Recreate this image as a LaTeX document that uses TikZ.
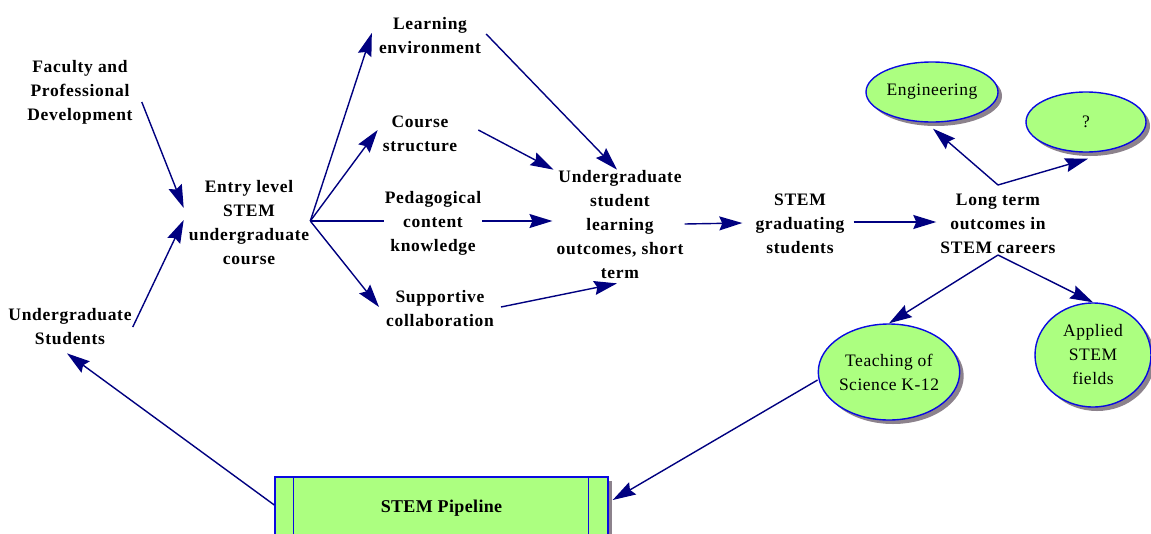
\documentclass[tikz,border=0pt]{standalone}
\usepackage{fontspec}
\setmainfont{Liberation Serif}
\usetikzlibrary{arrows.meta,shadows,calc,shapes.geometric}
\definecolor{navyline}{RGB}{0,0,128}
\definecolor{bblue}{RGB}{10,10,225}
\definecolor{lgreen}{RGB}{172,255,128}
\definecolor{shadowgray}{RGB}{140,130,140}
\begin{document}
\begin{tikzpicture}[x=1pt,y=-1pt,
  lbl/.style={align=center, font=\fontsize{17.5}{24}\selectfont\bfseries\addfontfeature{LetterSpace=4}, inner sep=1pt},
  conn/.style={draw=navyline, line width=1.4pt, -{Stealth[length=23pt,width=14pt,inset=3pt]}},
  plainline/.style={draw=navyline, line width=1.4pt},
  oval/.style={ellipse, draw=bblue, line width=1.4pt, fill=lgreen, align=center, inner sep=0pt,
    font=\fontsize{17.5}{24}\selectfont\addfontfeature{LetterSpace=3},
    drop shadow={shadow xshift=4pt, shadow yshift=-4pt, fill=shadowgray, opacity=1}},
  pipebox/.style={rectangle, draw=bblue, line width=1.4pt, fill=lgreen, inner sep=0pt,
    minimum width=333pt, minimum height=62pt,
    font=\fontsize{18}{24}\selectfont\bfseries\addfontfeature{LetterSpace=2},
    drop shadow={shadow xshift=4pt, shadow yshift=-4pt, fill=shadowgray, opacity=1}}
]
\useasboundingbox (0,0) rectangle (1151,533);
\clip (0,0) rectangle (1151,533);
\fill[white] (0,0) rectangle (1151,533);

% text nodes
\node[lbl] (fac)   at (80,92)   {Faculty and\\Professional\\Development};
\node[lbl] (stud)  at (70,327)  {Undergraduate\\Students};
\node[lbl] (entry) at (249,223) {Entry level\\STEM\\undergraduate\\course};
\node[lbl] (learn) at (430,36)  {Learning\\environment};
\node[lbl] (course) at (420,134) {Course\\structure};
\node[lbl] (ped)   at (433,223) {Pedagogical\\content\\knowledge};
\node[lbl] (sup)   at (440,309) {Supportive\\collaboration};
\node[lbl] (outc)  at (620,225) {Undergraduate\\student\\learning\\outcomes, short\\term};
\node[lbl] (grad)  at (800,224) {STEM\\graduating\\students};
\node[lbl] (long)  at (998,224) {Long term\\outcomes in\\STEM careers};

% ellipses
\node[oval, minimum width=132pt, minimum height=60pt] (eng) at (932,92) {Engineering};
\node[oval, minimum width=120pt, minimum height=60pt] (q) at (1086,122) {?};
\node[oval, minimum width=136pt, minimum height=96pt] (teach) at (889,372) {Teaching of\\Science K-12};
\node[oval, minimum width=116pt, minimum height=104pt] (app) at (1093,355) {Applied\\STEM\\fields};

% pipeline box
\node[pipebox] (pipe) at (441.5,508) {STEM Pipeline};
\draw[bblue, line width=1.4pt] ($(pipe.north west)+(19,0)$) -- ($(pipe.south west)+(19,0)$);
\draw[bblue, line width=1.4pt] ($(pipe.north east)+(-20,0)$) -- ($(pipe.south east)+(-20,0)$);

% connectors
\draw[conn] ($(fac.east)+(8,10)$) -- ($(entry.west)+(-4,-15)$);
\draw[conn] (stud.east) -- ($(entry.west)+(-4,-3)$);
\draw[conn] ($(entry.east)+(0,-2)$) -- ($(learn.west)+(-6,-3)$);
\draw[conn] ($(entry.east)+(0,-2)$) -- ($(course.west)+(-4,-4)$);
\draw[plainline] ($(entry.east)+(0,-2)$) -- ($(ped.west)+(0,-2)$);
\draw[conn] ($(entry.east)+(0,-2)$) -- ($(sup.west)+(-6,-2)$);
\draw[conn] ($(learn.east)+(4,-2)$) -- ($(outc.north)+(-3,0)$);
\draw[conn] ($(course.east)+(20,-4)$) -- ($(outc.north west)+(-2,0)$);
\draw[conn] ($(ped.east)+(0,-2)$) -- ($(outc.west)+(-3,-4)$);
\draw[conn] ($(sup.east)+(6,-2)$) -- ($(outc.south)+(-3,3)$);
\draw[conn] ($(outc.east)+(0,-1)$) -- ($(grad.west)+(-12,-1)$);
\draw[conn] ($(grad.east)+(8,-2)$) -- ($(long.west)+(-3,-2)$);
\draw[conn] ($(long.north)+(0,-8)$) -- ($(eng.south)+(1,6)$);
\draw[conn] ($(long.north)+(0,-8)$) -- ($(q.south)+(2,6)$);
\draw[conn] (long.south) -- (teach.north);
\draw[conn] (long.south) -- (app.north);
\draw[conn] ($(teach.west)+(0,8)$) -- ($(pipe.east)+(4,-8)$);
\draw[conn] ($(pipe.west)+(0,-3)$) -- ($(stud.south)+(-3,7)$);
\end{tikzpicture}
\end{document}
